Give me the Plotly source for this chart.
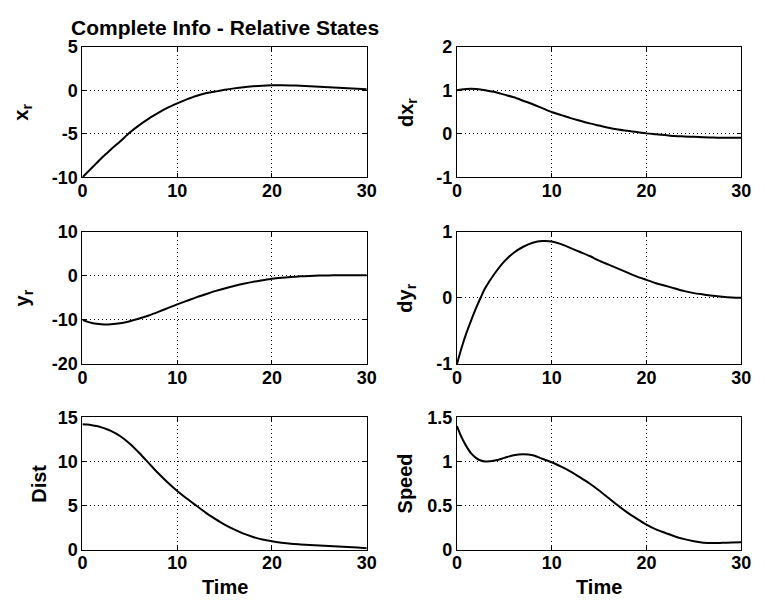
import plotly.graph_objects as go

W, H = 764, 611


def fx(px):
    return px / W


def fy(py):
    return 1 - py / H


t = [0, 0.5, 1, 1.5, 2, 2.5, 3, 4, 5, 6, 7, 8, 9, 10, 11, 12, 13, 14, 15, 16,
     17, 18, 19, 20, 21, 22, 23, 24, 25, 26, 27, 28, 29, 30]

x_r = [-10, -9.45, -8.9, -8.35, -7.8, -7.3, -6.8, -5.85, -4.85, -4.0, -3.25,
       -2.6, -2.0, -1.5, -1.05, -0.65, -0.35, -0.15, 0.05, 0.22, 0.36, 0.46,
       0.53, 0.57, 0.58, 0.56, 0.52, 0.47, 0.41, 0.35, 0.29, 0.23, 0.17, 0.11]

dx_r = [1.0, 1.02, 1.03, 1.035, 1.03, 1.02, 1.0, 0.96, 0.9, 0.84, 0.76, 0.68,
        0.59, 0.5, 0.43, 0.36, 0.3, 0.24, 0.19, 0.14, 0.1, 0.07, 0.04, 0.01,
        -0.01, -0.03, -0.05, -0.06, -0.07, -0.08, -0.085, -0.09, -0.09, -0.09]

y_r = [-10, -10.4, -10.7, -10.9, -11.0, -11.05, -11.0, -10.75, -10.3, -9.7,
       -9.0, -8.2, -7.35, -6.5, -5.7, -4.9, -4.2, -3.5, -2.9, -2.35, -1.85,
       -1.4, -1.05, -0.72, -0.48, -0.3, -0.15, -0.05, 0.02, 0.06, 0.08, 0.09,
       0.1, 0.1]

dy_r = [-1.0, -0.75, -0.53, -0.34, -0.16, 0.0, 0.15, 0.37, 0.55, 0.68, 0.77,
        0.83, 0.855, 0.85, 0.81, 0.75, 0.69, 0.63, 0.56, 0.5, 0.44, 0.38, 0.32,
        0.27, 0.22, 0.18, 0.14, 0.1, 0.07, 0.05, 0.03, 0.015, 0.005, 0.0]

dist = [14.2, 14.17, 14.1, 14.0, 13.85, 13.67, 13.45, 12.85, 12.0, 10.95,
        9.8, 8.65, 7.6, 6.65, 5.8, 5.0, 4.2, 3.5, 2.85, 2.3, 1.82, 1.45, 1.15,
        0.95, 0.8, 0.68, 0.6, 0.53, 0.47, 0.42, 0.37, 0.31, 0.25, 0.18]

speed = [1.40, 1.27, 1.17, 1.09, 1.04, 1.01, 1.0, 1.01, 1.04, 1.07, 1.08,
         1.07, 1.03, 0.99, 0.94, 0.885, 0.82, 0.75, 0.67, 0.585, 0.5, 0.42,
         0.35, 0.285, 0.23, 0.19, 0.15, 0.12, 0.095, 0.08, 0.075, 0.078,
         0.082, 0.085]

series = [x_r, dx_r, y_r, dy_r, dist, speed]
ylabels = ["x<sub>r</sub>", "dx<sub>r</sub>", "y<sub>r</sub>", "dy<sub>r</sub>",
           "Dist", "Speed"]
yranges = [[-10, 5], [-1, 2], [-20, 10], [-1, 1], [0, 15], [0, 1.5]]
ytickvals = [[-10, -5, 0, 5], [-1, 0, 1, 2], [-20, -10, 0, 10], [-1, 0, 1],
             [0, 5, 10, 15], [0, 0.5, 1, 1.5]]
yticktext = [["-10", "-5", "0", "5"], ["-1", "0", "1", "2"],
             ["-20", "-10", "0", "10"], ["-1", "0", "1"],
             ["0", "5", "10", "15"], ["0", "0.5", "1", "1.5"]]
xtickvals = [0, 10, 20, 30]
xticktext = ["0", "10", "20", "30"]
title_text = "Complete Info - Relative States"
xlabel = "Time"

# reference pixel layout
col_px = [(79, 369), (461, 751)]
row_px = [(38, 173), (229, 366), (421, 558)]
ylab_x = [17, 410, 19, 410, 35, 409]

FONT = "Liberation Sans"
fig = go.Figure()
for i, ys in enumerate(series):
    r, c = divmod(i, 2)
    n = i + 1
    xa = "x" if n == 1 else f"x{n}"
    ya = "y" if n == 1 else f"y{n}"
    fig.add_trace(go.Scatter(x=t, y=ys, mode="lines",
                             line=dict(color="black", width=2, shape="spline", smoothing=0.8),
                             xaxis=xa, yaxis=ya, showlegend=False))
    x0, x1 = col_px[c]
    y0, y1 = row_px[r]
    axcommon = dict(showline=True, linecolor="black", linewidth=1, mirror="ticks",
                    ticks="inside", ticklen=4, tickcolor="black",
                    showgrid=True, gridcolor="black", griddash="1px,3px", gridwidth=1,
                    zeroline=False,
                    tickfont=dict(family=FONT, size=18, color="black", weight="bold"))
    xkey = f"xaxis{'' if n == 1 else n}"
    ykey = f"yaxis{'' if n == 1 else n}"
    fig.layout[xkey] = dict(
        domain=[fx(x0), fx(x1)], anchor=ya, range=[0, 30],
        tickmode="array", tickvals=xtickvals, ticktext=xticktext, **axcommon)
    fig.layout[ykey] = dict(
        domain=[fy(y1), fy(y0)], anchor=xa, range=yranges[i],
        tickmode="array", tickvals=ytickvals[i], ticktext=yticktext[i], **axcommon)
    try:
        fig.layout[xkey].ticklabelstandoff = -3
    except Exception:
        pass
    fig.add_annotation(text=ylabels[i], xref="paper", yref="paper",
                       x=fx(ylab_x[i]), y=fy((y0 + y1) / 2), textangle=-90,
                       showarrow=False, xanchor="center", yanchor="middle",
                       font=dict(family=FONT, size=20, color="black", weight="bold"))
    if r == 2:
        fig.add_annotation(text=xlabel, xref="paper", yref="paper",
                           x=fx((x0 + x1) / 2), y=fy(597), showarrow=False,
                           xanchor="center", yanchor="middle",
                           font=dict(family=FONT, size=20, color="black", weight="bold"))

fig.add_annotation(text=title_text, xref="paper", yref="paper",
                   x=fx((col_px[0][0] + col_px[0][1]) / 2), y=fy(18.5), showarrow=False,
                   xanchor="center", yanchor="middle",
                   font=dict(family=FONT, size=21, color="black", weight="bold"))

fig.update_layout(width=W, height=H, margin=dict(l=0, r=0, t=0, b=0),
                  paper_bgcolor="white", plot_bgcolor="white")
fig.write_html("out.html")
